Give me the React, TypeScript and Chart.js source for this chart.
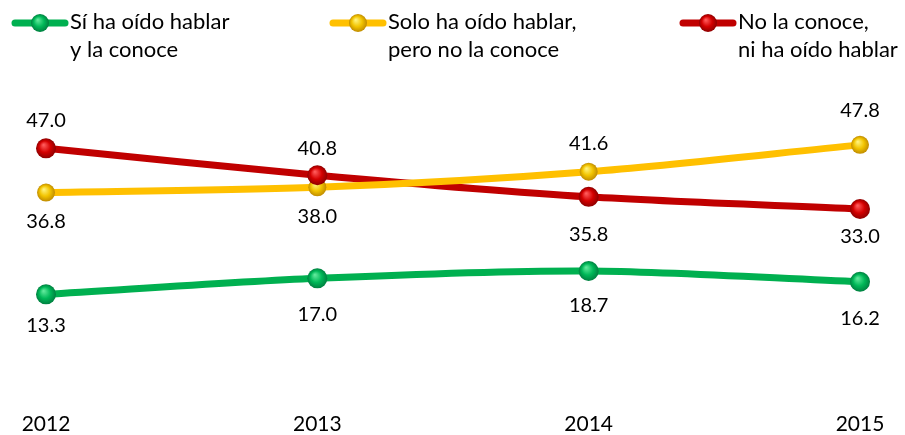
import React, { useEffect, useRef } from "react";
import { Chart, registerables } from "chart.js";
Chart.register(...registerables);

const categories = ["2012", "2013", "2014", "2015"];
const seriesNames = [
  ["Sí ha oído hablar", "y la conoce"],
  ["Solo ha oído hablar,", "pero no la conoce"],
  ["No la conoce,", "ni ha oído hablar"],
];
const conoce = [13.3, 17.0, 18.7, 16.2];
const soloOido = [36.8, 38.0, 41.6, 47.8];
const noConoce = [47.0, 40.8, 35.8, 33.0];

const colors = ["#00B050", "#FFC000", "#C00000"];
const ballMain = ["#00B858", "#F2C400", "#D40000"];
const lightColors = ["#5FE89A", "#FFF27A", "#FF5A5A"];
const darkColors = ["#008040", "#C08C00", "#8E0000"];
const ballRadius = [10, 9, 10];
// label placement: -1 above, 1 below
const labelSide = [
  [1, 1, 1, 1],
  [1, 1, -1, -1],
  [-1, -1, 1, 1],
];
const labelOffset = [
  [31, 36, 35, 37],
  [29, 29, 28, 34],
  [28, 27, 38, 28],
];
const FONT = "Lato, 'Open Sans', sans-serif";

function drawBall(ctx: CanvasRenderingContext2D, x: number, y: number, r: number, i: number) {
  const g = ctx.createRadialGradient(x - r * 0.25, y - r * 0.35, r * 0.05, x, y, r);
  g.addColorStop(0, lightColors[i]);
  g.addColorStop(0.55, ballMain[i]);
  g.addColorStop(1, darkColors[i]);
  ctx.beginPath();
  ctx.arc(x, y, r, 0, Math.PI * 2);
  ctx.fillStyle = g;
  ctx.fill();
}

const ballsPlugin = {
  id: "balls",
  afterDatasetsDraw(chart: any) {
    const ctx = chart.ctx;
    ctx.save();
    chart.data.datasets.forEach((ds: any, i: number) => {
      const meta = chart.getDatasetMeta(i);
      meta.data.forEach((pt: any) => {
        drawBall(ctx, pt.x, pt.y, ballRadius[i], i);
      });
    });
    ctx.fillStyle = "#000";
    ctx.font = `20px ${FONT}`;
    ctx.textAlign = "center";
    ctx.textBaseline = "middle";
    chart.data.datasets.forEach((ds: any, i: number) => {
      const meta = chart.getDatasetMeta(i);
      meta.data.forEach((pt: any, j: number) => {
        const v = ds.data[j] as number;
        ctx.fillText(v.toFixed(1), pt.x, pt.y + labelSide[i][j] * labelOffset[i][j]);
      });
    });
    ctx.restore();
  },
};

const legendPlugin = {
  id: "customLegend",
  afterDraw(chart: any) {
    const ctx = chart.ctx;
    const starts = [12, 330, 680];
    ctx.save();
    seriesNames.forEach((lines, i) => {
      const x0 = starts[i];
      ctx.strokeStyle = colors[i];
      ctx.lineWidth = 7;
      ctx.lineCap = "round";
      ctx.beginPath();
      ctx.moveTo(x0 + 3, 23);
      ctx.lineTo(x0 + 53, 23);
      ctx.stroke();
      drawBall(ctx, x0 + 28, 23, 9, i);
      ctx.fillStyle = "#000";
      ctx.font = `22px ${FONT}`;
      ctx.textAlign = "left";
      ctx.textBaseline = "middle";
      lines.forEach((t, k) => ctx.fillText(t, x0 + 58, 22 + k * 28));
    });
    ctx.restore();
  },
};

export default function App() {
  const ref = useRef<HTMLCanvasElement>(null);
  useEffect(() => {
    document.body.style.margin = "0";
    const chart = new Chart(ref.current!, {
      type: "line",
      data: {
        labels: categories,
        datasets: [conoce, soloOido, noConoce].map((d, i) => ({
          label: seriesNames[i].join(" "),
          data: d,
          borderColor: colors[i],
          borderWidth: 7,
          pointRadius: 0,
          tension: 0.3,
          fill: false,
        })),
      },
      options: {
        animation: false,
        responsive: false,
        maintainAspectRatio: false,
        layout: { padding: { left: 46, right: 45, top: 92, bottom: 0 } },
        plugins: { legend: { display: false }, tooltip: { enabled: false } },
        scales: {
          x: {
            offset: false,
            grid: { display: false, drawTicks: false },
            border: { display: false },
            ticks: { color: "#000", font: { family: FONT, size: 21 }, padding: 8 },
            afterFit: (axis: any) => {
              axis.height = 31;
            },
          },
          y: {
            display: false,
            min: -12,
            max: 60,
          },
        },
      },
      plugins: [ballsPlugin, legendPlugin],
    });
    return () => chart.destroy();
  }, []);
  return (
    <div style={{ width: 905, height: 435 }}>
      <canvas ref={ref} width={905} height={435} />
    </div>
  );
}
